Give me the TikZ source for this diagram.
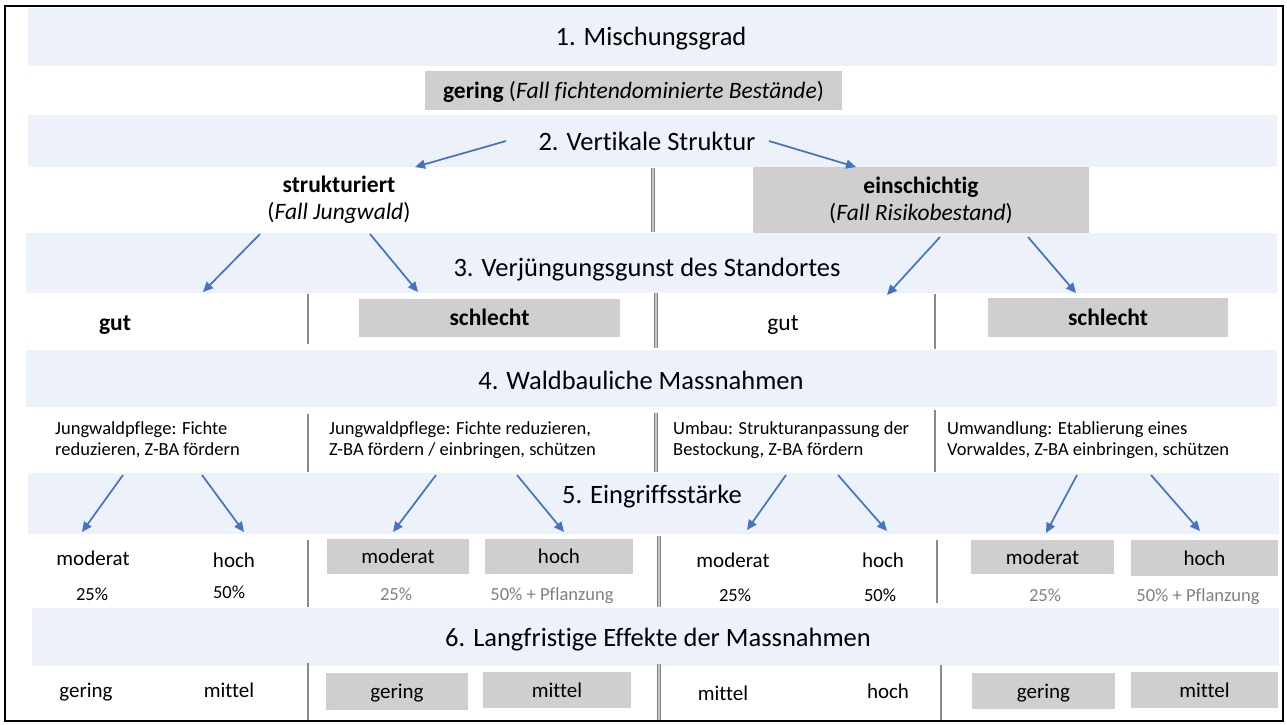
\documentclass[tikz,border=0pt]{standalone}
\usepackage{fontspec}
\setmainfont{Carlito}[Ligatures=CommonOff]
\usetikzlibrary{arrows.meta}
\definecolor{bandfill}{HTML}{EDF1F9}
\definecolor{boxfill}{HTML}{D0CECE}
\definecolor{arrowblue}{HTML}{4472C4}
\definecolor{sepgrey}{HTML}{8A8A8A}
\definecolor{pctgrey}{HTML}{7F7F7F}
\begin{document}
\begin{tikzpicture}[x=1pt,y=-1pt,
  bandrect/.style={fill=bandfill,draw=none},
  title/.style={anchor=base,inner sep=0pt,font=\fontsize{26.5}{30}\selectfont},
  subfont/.style={font=\fontsize{23.5}{27}\selectfont},
  wordfont/.style={font=\fontsize{21}{24}\selectfont},
  pctfont/.style={font=\fontsize{18.5}{21}\selectfont},
  greyboxS/.style={fill=boxfill,inner sep=0pt,subfont,text height=17pt,text depth=2pt},
  greyboxW/.style={fill=boxfill,inner sep=0pt,wordfont,text height=15.5pt,text depth=1pt},
  plain/.style={anchor=base,inner sep=0pt},
  desc/.style={anchor=base west,inner sep=0pt,align=left,font=\fontsize{18.5}{21}\selectfont},
  arr/.style={draw=arrowblue,line width=1.7pt,-{Triangle[length=10pt,width=9pt]}},
  sepline/.style={draw=sepgrey,line width=1.5pt},
  dblline/.style={draw=gray,line width=1.1pt,double=gray!45,double distance=2pt}
]
\useasboundingbox (0,0) rectangle (1287,724);
% bands
\fill[bandrect] (28,8) rectangle (1277,66);
\fill[bandrect] (28,115) rectangle (1277,167);
\fill[bandrect] (26,233) rectangle (1277,293);
\fill[bandrect] (26,350) rectangle (1277,407);
\fill[bandrect] (28,473) rectangle (1279,534);
\fill[bandrect] (32,608) rectangle (1279,666);
% separator lines
\draw[dblline] (653,168) -- (653,232);
\draw[dblline] (656,293) -- (656,348);
\draw[dblline] (656,413) -- (656,472);
\draw[dblline] (659,536) -- (659,607);
\draw[dblline] (659,664) -- (659,720);
\draw[sepline] (308,294) -- (308,344);
\draw[sepline] (308,414) -- (308,472);
\draw[sepline] (308,540) -- (308,607);
\draw[sepline] (308,663) -- (308,720);
\draw[sepline] (935,294) -- (935,349);
\draw[sepline] (935,410) -- (935,472);
\draw[sepline] (937,540) -- (937,603);
\draw[sepline] (941,665) -- (941,720);
% titles
\node[title] (t1) at (651,45.5) {1. Mischungsgrad};
\node[title] (t2) at (647,150) {2. Vertikale Struktur};
\node[title] (t3) at (647,276) {3. Verjüngungsgunst des Standortes};
\node[title] (t4) at (641,389) {4. Waldbauliche Massnahmen};
\node[title] (t5) at (652,503) {5. Eingriffsstärke};
\node[title] (t6) at (658,646) {6. Langfristige Effekte der Massnahmen};
% level 1
\node[greyboxS,minimum width=417pt,minimum height=39pt] (gering1) at (633.5,90.5) {\textbf{gering} (\textit{Fall fichtendominierte Bestände})};
% level 2
\node[inner sep=0pt,subfont,align=center,minimum height=66pt] (strukt) at (339,200) {\textbf{strukturiert}\\(\textit{Fall Jungwald})};
\node[fill=boxfill,inner sep=0pt,subfont,align=center,minimum width=336pt,minimum height=66pt] (einsch) at (921,200) {\textbf{einschichtig}\\(\textit{Fall Risikobestand})};
% level 3
\node[plain,subfont] (gutA) at (115,330) {\textbf{gut}};
\node[greyboxS,minimum width=261pt,minimum height=38pt] (schlechtA) at (489.5,318) {\textbf{schlecht}};
\node[plain,subfont] (gutB) at (783,330) {gut};
\node[greyboxS,minimum width=240pt,minimum height=39pt] (schlechtB) at (1108,317.5) {\textbf{schlecht}};
% level 4
\node[desc] (m1) at (55,455) {Jungwaldpflege: Fichte\\reduzieren, Z-BA fördern};
\node[desc] (m2) at (329,455) {Jungwaldpflege: Fichte reduzieren,\\Z-BA fördern / einbringen, schützen};
\node[desc] (m3) at (673,455) {Umbau: Strukturanpassung der\\Bestockung, Z-BA fördern};
\node[desc] (m4) at (947,455) {Umwandlung: Etablierung eines\\Vorwaldes, Z-BA einbringen, schützen};
% level 5
\node[plain,wordfont] (e1a) at (93,565) {moderat};
\node[plain,wordfont] (e1b) at (234,567) {hoch};
\node[plain,pctfont] (p1a) at (92,600) {25\%};
\node[plain,pctfont] (p1b) at (229,598) {50\%};
\node[greyboxW,minimum width=142pt,minimum height=35pt] (e2a) at (398,556.5) {moderat};
\node[greyboxW,minimum width=148pt,minimum height=35pt] (e2b) at (559,556.5) {hoch};
\node[plain,pctfont,text=pctgrey] (p2a) at (396,600) {25\%};
\node[plain,pctfont,text=pctgrey] (p2b) at (552,600) {50\% + Pflanzung};
\node[plain,wordfont] (e3a) at (733,567) {moderat};
\node[plain,wordfont] (e3b) at (883,567) {hoch};
\node[plain,pctfont] (p3a) at (735,601) {25\%};
\node[plain,pctfont] (p3b) at (880,601) {50\%};
\node[greyboxW,minimum width=143pt,minimum height=34pt] (e4a) at (1042.5,557) {moderat};
\node[greyboxW,minimum width=147pt,minimum height=36pt] (e4b) at (1204.5,558) {hoch};
\node[plain,pctfont,text=pctgrey] (p4a) at (1045,601) {25\%};
\node[plain,pctfont,text=pctgrey] (p4b) at (1198,601) {50\% + Pflanzung};
% level 6
\node[plain,wordfont] (f1a) at (86,697) {gering};
\node[plain,wordfont] (f1b) at (229,697) {mittel};
\node[greyboxW,minimum width=142pt,minimum height=37pt] (f2a) at (397,691.5) {gering};
\node[greyboxW,minimum width=148pt,minimum height=36pt] (f2b) at (557,690) {mittel};
\node[plain,wordfont] (f3a) at (723,700) {mittel};
\node[plain,wordfont] (f3b) at (888,698) {hoch};
\node[greyboxW,minimum width=143pt,minimum height=36pt] (f4a) at (1043.5,691) {gering};
\node[greyboxW,minimum width=147pt,minimum height=36pt] (f4b) at (1204.5,690) {mittel};
% arrow end points
\coordinate (a1s) at (506,141);  \coordinate (a1e) at (415,167);
\coordinate (a2s) at (769,141);  \coordinate (a2e) at (856,167);
\coordinate (a3s) at (260,234);  \coordinate (a3e) at (203,292);
\coordinate (a4s) at (370,234);  \coordinate (a4e) at (418,292);
\coordinate (a5s) at (940,237);  \coordinate (a5e) at (887,295);
\coordinate (a6s) at (1028,237); \coordinate (a6e) at (1076,293);
\coordinate (a7s) at (123,475);  \coordinate (a7e) at (82,532);
\coordinate (a8s) at (202,475);  \coordinate (a8e) at (244,532);
\coordinate (a9s) at (436,475);  \coordinate (a9e) at (393,532);
\coordinate (a10s) at (517,475); \coordinate (a10e) at (564,532);
\coordinate (a11s) at (786,475); \coordinate (a11e) at (747,530);
\coordinate (a12s) at (838,475); \coordinate (a12e) at (887,531);
\coordinate (a13s) at (1077,475);\coordinate (a13e) at (1046,533);
\coordinate (a14s) at (1151,475);\coordinate (a14e) at (1200,531);
\foreach \i in {1,...,14} {\draw[arr] (a\i s) -- (a\i e);}
% frame
\draw[line width=2pt,black] (5,6) rectangle (1283,721);
\end{tikzpicture}
\end{document}
